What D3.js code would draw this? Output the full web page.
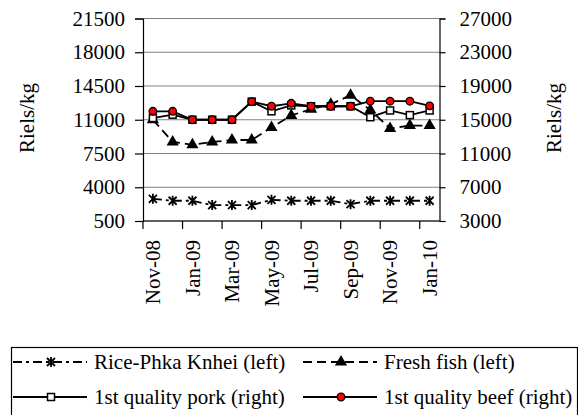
<!DOCTYPE html>
<html><head><meta charset="utf-8">
<script src="https://cdn.jsdelivr.net/npm/d3@7"></script>
<style>body{margin:0;background:#fff}svg{display:block}text{font-family:"Liberation Serif","Times New Roman",Tinos,Times,"DejaVu Serif",serif;fill:#000}</style>
</head><body>
<svg id="c" width="578" height="415"></svg>
<script>
const months = ["Nov-08","Dec-08","Jan-09","Feb-09","Mar-09","Apr-09","May-09","Jun-09","Jul-09","Aug-09","Sep-09","Oct-09","Nov-09","Dec-09","Jan-10"];
const rice = [2800,2600,2600,2150,2150,2150,2700,2600,2600,2600,2250,2600,2600,2600,2600];
const fish = [11000,8700,8400,8700,8900,8900,10200,11450,12100,12600,13550,12000,10100,10400,10400];
const pork = [15200,15600,15000,15000,15000,17150,16000,16700,16600,16600,16600,15300,16100,15550,16100];
const beef = [16000,16000,15000,15000,15000,17150,16600,16950,16600,16600,16600,17200,17200,17200,16650];
const leftTicks = [500,4000,7500,11000,14500,18000,21500];
const rightTicks = [3000,7000,11000,15000,19000,23000,27000];
const seriesNames = ["Rice-Phka Knhei (left)","Fresh fish (left)","1st quality pork (right)","1st quality beef (right)"];

const FONT = '"Liberation Serif","Times New Roman",Tinos,Times,"DejaVu Serif",serif';
const svg = d3.select("#c");
const L = 143, R = 439.5, T = 18.5, B = 221;
const FS = 21;
const x = d3.scaleBand().domain(months).range([L, R]);
const yL = d3.scaleLinear().domain([500, 21500]).range([B, T]);
const yR = d3.scaleLinear().domain([3000, 27000]).range([B, T]);

svg.append("g").selectAll("line").data(leftTicks).join("line")
  .attr("x1", L).attr("x2", R).attr("y1", d => yL(d)).attr("y2", d => yL(d))
  .attr("stroke", "#808080").attr("stroke-width", 1);

const gl = svg.append("g").attr("transform", `translate(${L},0)`)
  .call(d3.axisLeft(yL).tickValues(leftTicks).tickSize(8).tickPadding(10).tickFormat(d3.format("d")));
const gr = svg.append("g").attr("transform", `translate(${R},0)`)
  .call(d3.axisRight(yR).tickValues(rightTicks).tickSize(6).tickPadding(14).tickFormat(d3.format("d")));
[gl, gr].forEach(g => {
  g.attr("font-family", null).attr("font-size", null);
  g.select(".domain").attr("stroke", "#000").attr("stroke-width", 1.2);
  g.selectAll(".tick line").attr("stroke", "#000").attr("stroke-width", 1.2);
  g.selectAll("text").style("font-size", FS + "px").style("font-family", FONT);
});

svg.append("line").attr("x1", L).attr("x2", R).attr("y1", B).attr("y2", B).attr("stroke", "#000").attr("stroke-width", 1.2);
const tickIdx = months.map((m, i) => i).filter(i => i % 2 === 0);
svg.append("g").selectAll("line").data(tickIdx).join("line")
  .attr("x1", i => x(months[i])).attr("x2", i => x(months[i]))
  .attr("y1", B).attr("y2", B + 8).attr("stroke", "#000").attr("stroke-width", 1.2);
svg.append("g").selectAll("text").data(tickIdx).join("text")
  .attr("transform", i => `translate(${x(months[i]) + x.bandwidth() / 2},240) rotate(-90)`)
  .attr("text-anchor", "end").attr("dy", "0.35em").style("font-size", FS + "px").style("font-family", FONT)
  .text(i => months[i]);

svg.append("text").attr("transform", "translate(27,118) rotate(-90)").attr("text-anchor", "middle")
  .attr("dy", "0.35em").style("font-size", FS + "px").style("font-family", FONT).text("Riels/kg");
svg.append("text").attr("transform", "translate(554,118) rotate(-90)").attr("text-anchor", "middle")
  .attr("dy", "0.35em").style("font-size", FS + "px").style("font-family", FONT).text("Riels/kg");

const cx = i => x(months[i]) + x.bandwidth() / 2;

function drawLine(vals, y, dash) {
  const line = d3.line().x((d, i) => cx(i)).y(d => y(d));
  svg.append("path").datum(vals).attr("d", line).attr("fill", "none")
    .attr("stroke", "#000").attr("stroke-width", 1.8).attr("stroke-dasharray", dash);
}
function star(g, px, py) {
  const s = 4;
  g.append("path").attr("d", `M${px - s},${py - s}L${px + s},${py + s}M${px - s},${py + s}L${px + s},${py - s}M${px},${py - s - 1}L${px},${py + s + 1}`)
    .attr("stroke", "#000").attr("stroke-width", 1.8).attr("fill", "none");
}
function tri(g, px, py) {
  g.append("path").attr("d", d3.symbol(d3.symbolTriangle, 64)()).attr("transform", `translate(${px},${py})`).attr("fill", "#000");
}
function sq(g, px, py) {
  g.append("rect").attr("x", px - 3.5).attr("y", py - 3.5).attr("width", 7).attr("height", 7)
    .attr("fill", "#fff").attr("stroke", "#000").attr("stroke-width", 1.5);
}
function circ(g, px, py) {
  g.append("circle").attr("cx", px).attr("cy", py).attr("r", 3.8).attr("fill", "#ff0000").attr("stroke", "#000").attr("stroke-width", 1.3);
}

const riceDash = "9,4,3,4", fishDash = "9,5";
drawLine(rice, yL, riceDash);
const gRice = svg.append("g"); rice.forEach((v, i) => star(gRice, cx(i), yL(v)));
drawLine(fish, yL, fishDash);
const gFish = svg.append("g"); fish.forEach((v, i) => tri(gFish, cx(i), yL(v)));
drawLine(pork, yR, null);
const gPork = svg.append("g"); pork.forEach((v, i) => sq(gPork, cx(i), yR(v)));
drawLine(beef, yR, null);
const gBeef = svg.append("g"); beef.forEach((v, i) => circ(gBeef, cx(i), yR(v)));

svg.append("rect").attr("x", 11.5).attr("y", 347.5).attr("width", 566).attr("height", 80)
  .attr("fill", "none").attr("stroke", "#000").attr("stroke-width", 1.2);
const legItems = [
  {name: seriesNames[0], x0: 13, y: 362, dash: riceDash, mk: star},
  {name: seriesNames[1], x0: 303, y: 362, dash: fishDash, mk: tri},
  {name: seriesNames[2], x0: 13, y: 397, dash: null, mk: sq},
  {name: seriesNames[3], x0: 303, y: 397, dash: null, mk: circ}
];
const lg = svg.append("g");
legItems.forEach(it => {
  lg.append("line").attr("x1", it.x0).attr("x2", it.x0 + 74).attr("y1", it.y).attr("y2", it.y)
    .attr("stroke", "#000").attr("stroke-width", 1.8).attr("stroke-dasharray", it.dash);
  it.mk(lg, it.x0 + 38, it.y);
  lg.append("text").attr("x", it.x0 + 81).attr("y", it.y).attr("dy", "0.35em")
    .style("font-size", FS + "px").style("font-family", FONT).text(it.name);
});
</script>
</body></html>
